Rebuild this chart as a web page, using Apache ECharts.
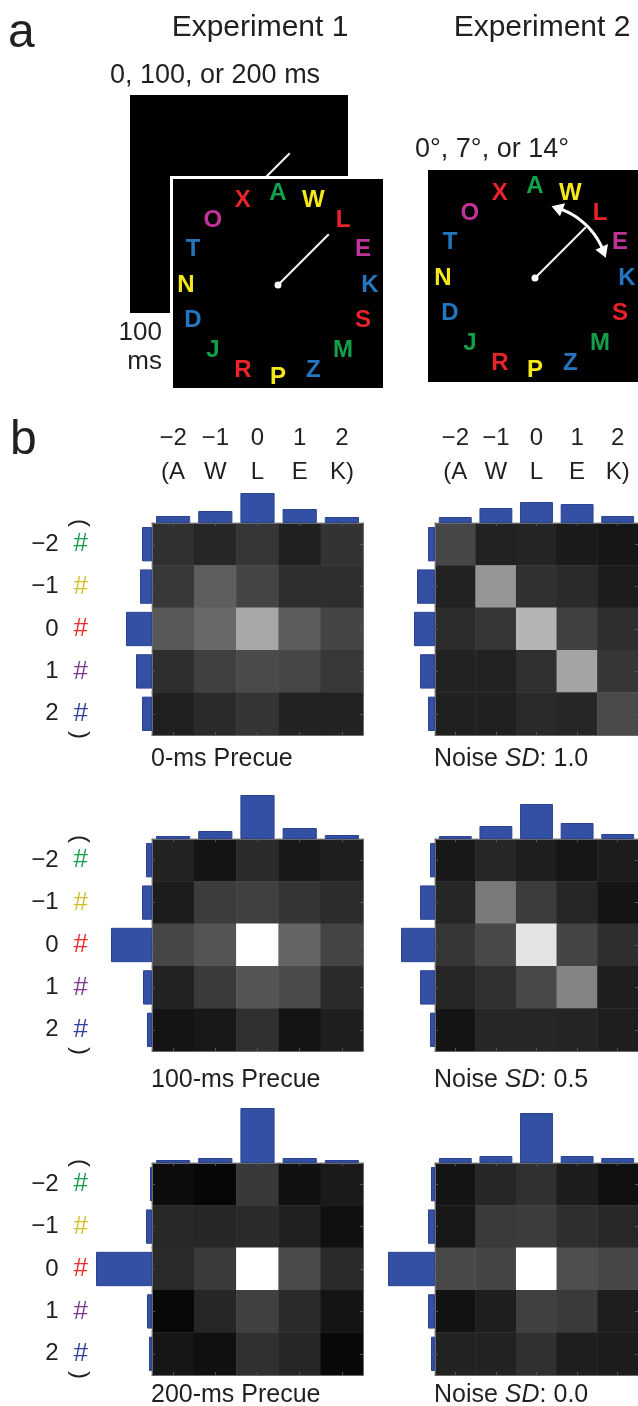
<!DOCTYPE html>
<html>
<head>
<meta charset="utf-8">
<style>
  html, body { margin: 0; padding: 0; background: #fff; }
  #main { width: 638px; height: 1406px; }
</style>
<script src="https://cdn.jsdelivr.net/npm/echarts@6/dist/echarts.min.js"></script>
</head>
<body>
<div id="main"></div>
<script>
// letter ring (panel a)
var letters = ['A', 'W', 'L', 'E', 'K', 'S', 'M', 'Z', 'P', 'R', 'J', 'D', 'N', 'T', 'O', 'X'];
var letterAngles = [0, 22.5, 45, 67.5, 90, 112.5, 135, 157.5, 180, 202.5, 225, 247.5, 270, 292.5, 315, 337.5];
var letterColors = ['#12a04a', '#f4e81a', '#e8232a', '#c0339a', '#2277c0', '#e8232a', '#12a04a', '#2277c0',
                    '#f4e81a', '#e8232a', '#12a04a', '#2277c0', '#f4e81a', '#2277c0', '#c0339a', '#e8232a'];
var cueAngle = 45;
var cueLength = 0.78;
var arrowRadius = 0.8;
var arrowSpan = [21, 66];

// axes of panel b
var colTicks = ['\u22122', '\u22121', '0', '1', '2'];
var colLetters = ['(A', 'W', 'L', 'E', 'K)'];
var rowTicks = ['\u22122', '\u22121', '0', '1', '2'];
var rowColors = ['#14a04c', '#d4be2e', '#ee2b2b', '#7b3a8e', '#2f3f9c'];

// gray level of each cell (0 = black, 255 = white), rows -2..2, columns -2..2
var precue0 = [
  [48, 38, 54, 32, 51],
  [56, 94, 68, 46, 46],
  [88, 104, 168, 92, 69],
  [46, 64, 74, 70, 56],
  [32, 42, 52, 34, 34]
];
var noise10 = [
  [70, 34, 36, 26, 22],
  [34, 150, 48, 42, 28],
  [44, 54, 180, 64, 46],
  [34, 34, 48, 164, 54],
  [32, 32, 42, 38, 74]
];
var precue100 = [
  [34, 20, 42, 24, 30],
  [28, 60, 64, 52, 44],
  [70, 84, 255, 100, 68],
  [34, 58, 85, 74, 42],
  [20, 24, 48, 20, 30]
];
var noise05 = [
  [24, 38, 30, 22, 28],
  [38, 122, 60, 38, 20],
  [54, 72, 228, 68, 46],
  [38, 48, 72, 132, 30],
  [20, 38, 38, 36, 30]
];
var precue200 = [
  [12, 6, 56, 17, 26],
  [40, 38, 42, 32, 16],
  [42, 58, 255, 74, 42],
  [8, 38, 64, 42, 20],
  [22, 16, 48, 38, 8]
];
var noise00 = [
  [20, 38, 48, 28, 16],
  [24, 58, 60, 46, 40],
  [72, 68, 255, 78, 70],
  [18, 30, 64, 58, 30],
  [34, 34, 48, 30, 28]
];

// marginal bars (column sums on top, row sums at left)
var precue0Top = [7, 12, 30, 14, 6],   precue0Left = [10, 12, 26, 16, 10];
var noise10Top = [6, 15, 21, 19, 7],   noise10Left = [7, 18, 21, 15, 7];
var precue100Top = [3, 8, 44, 11, 4],  precue100Left = [6, 10, 41, 9, 5];
var noise05Top = [3, 13, 35, 16, 5],   noise05Left = [5, 15, 34, 15, 5];
var precue200Top = [3, 5, 55, 5, 3],   precue200Left = [2, 6, 56, 5, 3];
var noise00Top = [5, 7, 50, 7, 5],     noise00Left = [4, 7, 47, 7, 4];

var FONT = '"Liberation Sans", Arial, Helvetica, sans-serif';
var INK = '#231f20';
var BAR = '#3450a4';

var panels = [
  { cells: precue0, top: precue0Top, left: precue0Left, x: 152, y: 523, row: 0, col: 0, title: '0-ms Precue', ty: 759 },
  { cells: noise10, top: noise10Top, left: noise10Left, x: 435, y: 523, row: 0, col: 1, title: 'Noise {i|SD}: 1.0', ty: 759 },
  { cells: precue100, top: precue100Top, left: precue100Left, x: 152, y: 839, row: 1, col: 0, title: '100-ms Precue', ty: 1080 },
  { cells: noise05, top: noise05Top, left: noise05Left, x: 435, y: 839, row: 1, col: 1, title: 'Noise {i|SD}: 0.5', ty: 1080 },
  { cells: precue200, top: precue200Top, left: precue200Left, x: 152, y: 1163, row: 2, col: 0, title: '200-ms Precue', ty: 1395 },
  { cells: noise00, top: noise00Top, left: noise00Left, x: 435, y: 1163, row: 2, col: 1, title: 'Noise {i|SD}: 0.0', ty: 1395 }
];

function toHeat(m) {
  var out = [];
  m.forEach(function (row, r) {
    row.forEach(function (v, c) { out.push([c, r, v]); });
  });
  return out;
}

var W = 211, H = 212, M = 60;
var grids = [], xAxes = [], yAxes = [], series = [], heatIdx = [];
var frame = { show: true, lineStyle: { color: '#6a6a6a', width: 1 } };
var tick = { show: true, inside: true, alignWithLabel: true, length: 3, lineStyle: { color: '#555' } };

var rowRich = { n: { fontSize: 24, color: INK, fontFamily: FONT } };
rowColors.forEach(function (c, i) {
  rowRich['h' + i] = { fontSize: 26, color: c, fontFamily: FONT, padding: [0, 0, 0, 15] };
});

panels.forEach(function (p) {
  var g = grids.length;
  grids.push({ left: p.x, top: p.y, width: W, height: H });
  grids.push({ left: p.x, top: p.y - M, width: W, height: M });
  grids.push({ left: p.x - M, top: p.y, width: M, height: H });

  // heatmap axes: frame on all four sides, ticks inside
  var xb = xAxes.length;
  xAxes.push({ gridIndex: g, type: 'category', data: colTicks, position: 'bottom', z: 5,
    axisLine: frame, axisTick: tick, axisLabel: { show: false }, splitLine: { show: false } });
  xAxes.push({ gridIndex: g, type: 'category', data: colTicks, position: 'top', z: 5,
    axisLine: frame, axisTick: tick, splitLine: { show: false },
    axisLabel: p.row === 0 ? {
      show: true, interval: 0, margin: 34, fontSize: 24, lineHeight: 34, color: INK, fontFamily: FONT,
      formatter: function (v, i) { return colTicks[i] + '\n' + colLetters[i]; }
    } : { show: false } });
  var yl = yAxes.length;
  yAxes.push({ gridIndex: g, type: 'category', data: rowTicks, inverse: true, position: 'left', z: 5,
    axisLine: frame, axisTick: tick, splitLine: { show: false },
    axisLabel: p.col === 0 ? {
      show: true, interval: 0, margin: 64, rich: rowRich,
      formatter: function (v, i) { return '{n|' + rowTicks[i] + '}{h' + i + '|#}'; }
    } : { show: false } });
  yAxes.push({ gridIndex: g, type: 'category', data: rowTicks, inverse: true, position: 'right', z: 5,
    axisLine: frame, axisTick: tick, axisLabel: { show: false }, splitLine: { show: false } });

  heatIdx.push(series.length);
  series.push({ type: 'heatmap', xAxisIndex: xb, yAxisIndex: yl, data: toHeat(p.cells),
    itemStyle: { borderWidth: 0 }, emphasis: { disabled: true }, silent: true });

  // top marginal bars
  var xt = xAxes.length, yt = yAxes.length;
  xAxes.push({ gridIndex: g + 1, type: 'category', data: colTicks, show: false });
  yAxes.push({ gridIndex: g + 1, type: 'value', min: 0, max: M, show: false, splitLine: { show: false } });
  series.push({ type: 'bar', xAxisIndex: xt, yAxisIndex: yt, data: p.top, barWidth: '81%', silent: true,
    itemStyle: { color: BAR, borderColor: '#2b4390', borderWidth: 1 } });

  // left marginal bars
  var xs = xAxes.length, ys = yAxes.length;
  xAxes.push({ gridIndex: g + 2, type: 'value', min: 0, max: M, inverse: true, show: false, splitLine: { show: false } });
  yAxes.push({ gridIndex: g + 2, type: 'category', data: rowTicks, inverse: true, show: false });
  series.push({ type: 'bar', xAxisIndex: xs, yAxisIndex: ys, data: p.left, barWidth: '81%', silent: true,
    itemStyle: { color: BAR, borderColor: '#2b4390', borderWidth: 1 } });
});

// panel a: three stimulus displays as polar systems
var polars = [
  { center: [239, 204], radius: 92 },
  { center: [278, 285], radius: 92 },
  { center: [535, 278], radius: 92 }
];
var angleAxes = polars.map(function (q, i) {
  return { polarIndex: i, type: 'value', min: 0, max: 360, startAngle: 90, clockwise: true, show: false };
});
var radiusAxes = polars.map(function (q, i) {
  return { polarIndex: i, type: 'value', min: 0, max: 1, show: false };
});

function letterSeries(pi) {
  return {
    type: 'scatter', coordinateSystem: 'polar', polarIndex: pi, z: 6, silent: true,
    symbolSize: 1, itemStyle: { color: 'rgba(0,0,0,0)', opacity: 1 },
    data: letters.map(function (l, i) {
      return { name: l, value: [1, letterAngles[i]], label: { color: letterColors[i] } };
    }),
    label: { show: true, position: 'inside', formatter: '{b}', fontSize: 24, fontWeight: 'bold', fontFamily: FONT, opacity: 1 }
  };
}
function cueSeries(pi, z) {
  return {
    type: 'line', coordinateSystem: 'polar', polarIndex: pi, z: z, silent: true, symbol: 'none',
    data: [[0, cueAngle], [cueLength, cueAngle]], lineStyle: { color: '#fff', width: 2 }
  };
}
function dotSeries(pi) {
  return {
    type: 'scatter', coordinateSystem: 'polar', polarIndex: pi, z: 7, silent: true,
    symbolSize: 7, itemStyle: { color: '#fff', opacity: 1 }, data: [[0, 0]]
  };
}

series.push(cueSeries(0, 2));
series.push(letterSeries(1), cueSeries(1, 6), dotSeries(1));
series.push(letterSeries(2), cueSeries(2, 6), dotSeries(2));
series.push({
  type: 'custom', coordinateSystem: 'polar', polarIndex: 2, z: 7, silent: true,
  data: [[arrowRadius, arrowSpan[0], arrowSpan[1]]],
  renderItem: function (params, api) {
    var r = api.value(0), a0 = api.value(1), a1 = api.value(2);
    var pts = [];
    for (var a = a0; a <= a1 + 0.01; a += 1.5) pts.push(api.coord([r, a]));
    var head1 = [api.coord([r, a0 - 8]), api.coord([r - 0.075, a0 + 1]), api.coord([r + 0.075, a0 + 1])];
    var head2 = [api.coord([r, a1 + 8]), api.coord([r - 0.075, a1 - 1]), api.coord([r + 0.075, a1 - 1])];
    return {
      type: 'group',
      children: [
        { type: 'polyline', shape: { points: pts }, style: { stroke: '#fff', lineWidth: 3, fill: null } },
        { type: 'polygon', shape: { points: head1 }, style: { fill: '#fff' } },
        { type: 'polygon', shape: { points: head2 }, style: { fill: '#fff' } }
      ]
    };
  }
});

function txt(text, x, y, size, align, extra) {
  var el = {
    type: 'text', x: x, y: y, z: 10,
    style: { text: text, fontSize: size, fontFamily: FONT, fill: INK, align: align || 'left', verticalAlign: 'middle' }
  };
  if (extra) Object.keys(extra).forEach(function (k) { el[k] = extra[k]; });
  return el;
}

var graphics = [
  { type: 'rect', z: 0, shape: { x: 130, y: 95, width: 218, height: 218 }, style: { fill: '#000' } },
  { type: 'rect', z: 4, shape: { x: 171.5, y: 177.5, width: 213, height: 212 }, style: { fill: '#000', stroke: '#fff', lineWidth: 3 } },
  { type: 'rect', z: 0, shape: { x: 428, y: 170, width: 214, height: 212 }, style: { fill: '#000' } },
  txt('a', 8, 34, 48),
  txt('b', 10, 441, 48),
  txt('Experiment 1', 260, 28, 30, 'center'),
  txt('Experiment 2', 542, 28, 30, 'center'),
  txt('0, 100, or 200 ms', 110, 76, 27),
  txt('0\u00b0, 7\u00b0, or 14\u00b0', 415, 150, 27),
  txt('100', 162, 333, 26, 'right'),
  txt('ms', 162, 362, 26, 'right')
];

panels.forEach(function (p) {
  var t = txt(p.title, p.x - 1, p.ty, 25);
  t.style.rich = { i: { fontSize: 25, fontFamily: FONT, fontStyle: 'italic', fill: INK } };
  graphics.push(t);
  if (p.col === 0) {
    graphics.push(txt('(', 80, p.y, 24, 'center', { rotation: -Math.PI / 2 }));
    graphics.push(txt(')', 80, p.y + H, 24, 'center', { rotation: -Math.PI / 2 }));
  }
});

var chart = echarts.init(document.getElementById('main'));
chart.setOption({
  animation: false,
  backgroundColor: '#fff',
  grid: grids,
  xAxis: xAxes,
  yAxis: yAxes,
  polar: polars,
  angleAxis: angleAxes,
  radiusAxis: radiusAxes,
  visualMap: {
    show: false, type: 'continuous', min: 0, max: 255, dimension: 2,
    seriesIndex: heatIdx, inRange: { color: ['#000000', '#ffffff'] }
  },
  graphic: graphics,
  series: series
});
window.addEventListener('resize', chart.resize);
</script>
</body>
</html>
